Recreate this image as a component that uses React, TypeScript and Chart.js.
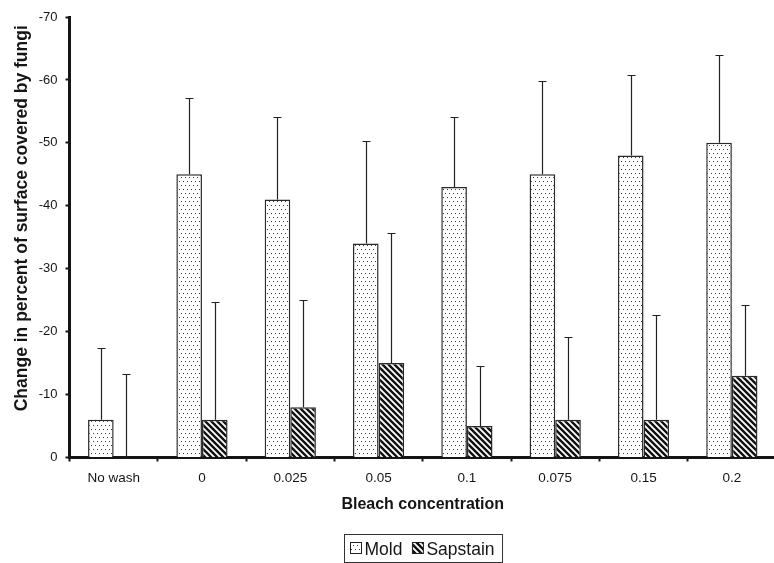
import React, { useEffect, useRef } from "react";
import { Chart, registerables } from "chart.js";

Chart.register(...registerables);

const categories = ["No wash", "0", "0.025", "0.05", "0.1", "0.075", "0.15", "0.2"];
const seriesLabels = ["Mold", "Sapstain"];
const moldValues = [-6, -45, -41, -34, -43, -45, -48, -50];
const moldErrors = [11.4, 12.1, 13.1, 16.3, 11.1, 14.9, 12.8, 14.0];
const sapstainValues = [0, -6, -8, -15, -5, -6, -6, -13];
const sapstainErrors = [13.2, 18.7, 17.1, 20.6, 9.5, 13.2, 16.6, 11.2];
const yTicks = [-70, -60, -50, -40, -30, -20, -10, 0];
const yTitle = "Change in percent of surface covered by fungi";
const xTitle = "Bleach concentration";

const FONT = "'Liberation Sans', Arial, Helvetica, sans-serif";
const INK = "#151515";

function makeDots(): CanvasPattern | string {
  const c = document.createElement("canvas");
  c.width = 4;
  c.height = 8;
  const g = c.getContext("2d");
  if (!g) return "#fff";
  g.fillStyle = "#ffffff";
  g.fillRect(0, 0, 4, 8);
  g.fillStyle = "#3a3a3a";
  g.fillRect(1, 1, 1, 1);
  g.fillRect(3, 5, 1, 1);
  return g.createPattern(c, "repeat") || "#fff";
}

function makeHatch(): CanvasPattern | string {
  const c = document.createElement("canvas");
  c.width = 6;
  c.height = 6;
  const g = c.getContext("2d");
  if (!g) return "#888";
  g.fillStyle = "#ffffff";
  g.fillRect(0, 0, 6, 6);
  g.strokeStyle = "#111";
  g.lineWidth = 2.4;
  g.beginPath();
  g.moveTo(-3, -3);
  g.lineTo(9, 9);
  g.moveTo(-9, -3);
  g.lineTo(3, 9);
  g.moveTo(3, -3);
  g.lineTo(15, 9);
  g.stroke();
  return g.createPattern(c, "repeat") || "#888";
}

const errorBarPlugin = {
  id: "errorBars",
  afterDatasetsDraw(chart: any) {
    const ctx = chart.ctx;
    const y = chart.scales.y;
    const errs = [moldErrors, sapstainErrors];
    ctx.save();
    ctx.strokeStyle = "#222";
    ctx.lineWidth = 1.2;
    chart.data.datasets.forEach((ds: any, di: number) => {
      const meta = chart.getDatasetMeta(di);
      meta.data.forEach((bar: any, i: number) => {
        const v = ds.data[i];
        const top = y.getPixelForValue(v - errs[di][i]);
        const base = y.getPixelForValue(v);
        const x = Math.round(bar.x) + 0.5;
        const t = Math.round(top) + 0.5;
        ctx.beginPath();
        ctx.moveTo(x, base);
        ctx.lineTo(x, t);
        ctx.moveTo(x - 4, t);
        ctx.lineTo(x + 4, t);
        ctx.stroke();
      });
    });
    ctx.restore();
  },
};

const yTitlePlugin = {
  id: "yTitle",
  afterDraw(chart: any) {
    const ctx = chart.ctx;
    const a = chart.chartArea;
    const cy = (a.top + a.bottom) / 2 - 19;
    ctx.save();
    ctx.translate(22, cy);
    ctx.rotate(-Math.PI / 2);
    ctx.font = `bold 17.5px ${FONT}`;
    ctx.fillStyle = INK;
    ctx.textAlign = "center";
    ctx.textBaseline = "middle";
    ctx.fillText(yTitle, 0, 0);
    ctx.restore();
  },
};

const legendPlugin = {
  id: "boxLegend",
  afterDraw(chart: any) {
    const ctx = chart.ctx;
    const a = chart.chartArea;
    const xs = chart.scales.x;
    ctx.save();
    ctx.font = `17.5px ${FONT}`;
    const box = 11;
    const w0 = ctx.measureText(seriesLabels[0]).width;
    const w1 = ctx.measureText(seriesLabels[1]).width;
    const padL = 6;
    const padR = 8;
    const gapBoxText = 3;
    const gapItems = 10;
    const total = padL + box + gapBoxText + w0 + gapItems + box + gapBoxText + w1 + padR;
    const cx = (a.left + a.right) / 2;
    const left = Math.round(cx - total / 2) + 0.5;
    const top = Math.round(xs.bottom + 19.5) + 0.5;
    const height = 28;
    ctx.strokeStyle = "#333";
    ctx.lineWidth = 1;
    ctx.strokeRect(left, top, total, height);
    const items = chart.data.datasets;
    let x = left + padL;
    const boxTop = top + 8;
    const textY = top + 15.5;
    [w0, w1].forEach((w, i) => {
      ctx.fillStyle = items[i].backgroundColor;
      ctx.fillRect(x, boxTop, box, box);
      ctx.strokeStyle = "#222";
      ctx.strokeRect(x, boxTop, box, box);
      ctx.fillStyle = INK;
      ctx.textAlign = "left";
      ctx.textBaseline = "middle";
      ctx.fillText(seriesLabels[i], x + box + gapBoxText, textY);
      x += box + gapBoxText + w + gapItems;
    });
    ctx.restore();
  },
};

export default function App() {
  const ref = useRef<HTMLCanvasElement | null>(null);

  useEffect(() => {
    if (!ref.current) return;
    const dots = makeDots();
    const hatch = makeHatch();
    const chart = new Chart(ref.current, {
      type: "bar",
      data: {
        labels: categories,
        datasets: [
          {
            label: seriesLabels[0],
            data: moldValues,
            backgroundColor: dots as any,
            borderColor: "#2a2a2a",
            borderWidth: 1.5,
            categoryPercentage: 0.58,
            barPercentage: 1,
          },
          {
            label: seriesLabels[1],
            data: sapstainValues,
            backgroundColor: hatch as any,
            borderColor: "#2a2a2a",
            borderWidth: 1.5,
            categoryPercentage: 0.58,
            barPercentage: 1,
          },
        ],
      },
      options: {
        responsive: false,
        animation: false,
        layout: { padding: { left: 0, top: 17, right: 2, bottom: 48.5 } },
        plugins: {
          legend: { display: false },
          tooltip: { enabled: false },
          title: { display: false },
        },
        scales: {
          x: {
            grid: {
              display: true,
              drawOnChartArea: false,
              drawTicks: true,
              tickLength: 4,
              tickWidth: 2,
              tickColor: INK,
              offset: true,
            },
            border: { display: true, color: INK, width: 3 },
            ticks: {
              color: INK,
              font: { size: 13.5, family: FONT },
              padding: 9,
              maxRotation: 0,
              autoSkip: false,
            },
            title: {
              display: true,
              text: xTitle,
              color: INK,
              font: { size: 16, weight: "bold", family: FONT },
              padding: { top: 0, bottom: 0 },
            },
            afterFit: (s: any) => {
              s.height = 57;
            },
          },
          y: {
            min: -70,
            max: 0,
            reverse: true,
            afterBuildTicks: (s: any) => {
              s.ticks = yTicks.map((v) => ({ value: v }));
            },
            ticks: {
              color: INK,
              font: { size: 13, family: FONT },
              padding: 8,
            },
            grid: {
              display: true,
              drawOnChartArea: false,
              drawTicks: true,
              tickLength: 4,
              tickWidth: 2,
              tickColor: INK,
            },
            border: { display: true, color: INK, width: 3 },
            afterFit: (s: any) => {
              s.width = 69.5;
            },
          },
        },
      } as any,
      plugins: [errorBarPlugin, yTitlePlugin, legendPlugin],
    });
    return () => chart.destroy();
  }, []);

  return (
    <div
      style={{
        position: "fixed",
        left: 0,
        top: 0,
        width: 774,
        height: 563,
        overflow: "hidden",
        background: "#fff",
      }}
    >
      <canvas ref={ref} width={778} height={563} style={{ display: "block" }} />
    </div>
  );
}
